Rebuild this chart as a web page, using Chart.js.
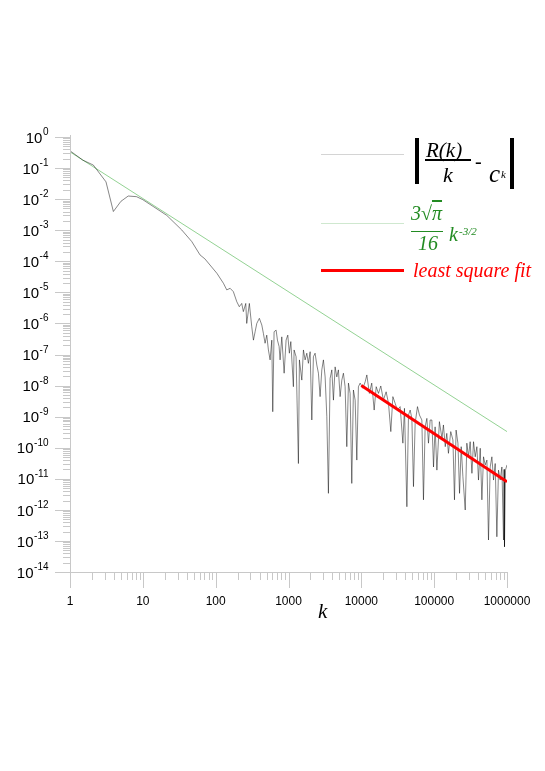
<!DOCTYPE html>
<html lang="en">
<head>
<meta charset="UTF-8" />
<title>|R(k)/k - c_k| against k</title>
<script src="https://cdn.jsdelivr.net/npm/chart.js"></script>
<style>
    body { margin: 0; background: #fff; }
    #wrap { position: relative; width: 545px; height: 771px; }
    canvas { position: absolute; left: 0; top: 0; }
    .t {
        position: absolute;
        white-space: nowrap;
        line-height: 1;
        font-family: "Liberation Serif", "DejaVu Serif", serif;
        font-style: italic;
    }
    .up { font-style: normal; }
    .bar { position: absolute; }
    .g { color: #228b22; }
</style>
</head>
<body>

<div id="wrap">
    <canvas id="chart" width="545" height="771"></canvas>

    <!-- legend: |R(k)/k - c_k| -->
    <div class="bar" style="left:321px;top:154px;width:83px;height:1px;background:#d4d4d4"></div>
    <div class="bar" style="left:415px;top:138px;width:4px;height:46px;background:#000"></div>
    <span class="t" style="left:426px;top:139.5px;font-size:21px">R(k)</span>
    <div class="bar" style="left:425px;top:159px;width:46px;height:1.5px;background:#000"></div>
    <span class="t" style="left:443px;top:163.5px;font-size:22px">k</span>
    <span class="t up" style="left:475px;top:150.5px;font-size:20px">-</span>
    <span class="t" style="left:489px;top:161px;font-size:25px">c</span>
    <span class="t" style="left:501px;top:169px;font-size:11px">k</span>
    <div class="bar" style="left:510px;top:138px;width:4px;height:51px;background:#000"></div>

    <!-- legend: 3 sqrt(pi) / 16 k^-3/2 -->
    <div class="bar" style="left:321px;top:223px;width:83px;height:1px;background:#cfe8cf"></div>
    <span class="t g" style="left:411px;top:203.3px;font-size:20px">3√<span style="text-decoration:overline">π</span></span>
    <div class="bar" style="left:411px;top:230.5px;width:32px;height:1.5px;background:#228b22"></div>
    <span class="t g" style="left:418px;top:233.3px;font-size:20px">16</span>
    <span class="t g" style="left:449px;top:224.3px;font-size:20px">k</span>
    <span class="t g" style="left:459px;top:225.8px;font-size:11px">-3/2</span>

    <!-- legend: least square fit -->
    <div class="bar" style="left:321px;top:269px;width:83px;height:3px;background:#ff0000"></div>
    <span class="t" style="left:413px;top:260.3px;font-size:20px;color:#ff0000">least square fit</span>

    <!-- x axis title -->
    <span class="t" style="left:318px;top:601.4px;font-size:21px">k</span>
</div>

<script>
    // |R(k)/k - c_k|
    const kValues = [
        1, 1.5, 2.09, 3.12, 3.94, 5, 6.3, 8.2, 10, 13.9, 21.3, 34.2, 47, 61, 71, 104, 128, 142, 158, 175,
        195, 211, 228, 240, 259, 267, 290, 313, 330, 348, 367, 398, 430, 452, 477, 503, 530, 559, 590, 608,
        634, 676, 705, 743, 767, 809, 871, 927, 978, 1028, 1076, 1167, 1194, 1271, 1368, 1413, 1524, 1603, 1691, 1784,
        1876, 1982, 2090, 2198, 2318, 2447, 2576, 2716, 2866, 3015, 3184, 3358, 3532, 3725, 3933, 4139, 4365, 4606, 4844, 5114,
        5395, 5675, 5987, 6318, 6652, 7015, 7396, 7787, 8222, 8670, 9120, 9630, 10500, 11300, 11900, 12900, 13900, 15000, 16000, 17200,
        18500, 20100, 21900, 23600, 25400, 27100, 29100, 31300, 34100, 37200, 39100, 42200, 44400, 46800, 49400, 52000, 54800, 59000, 62800, 67800,
        71300, 75200, 79400, 83500, 88100, 93000, 98000, 103000, 109000, 118000, 128000, 134000, 142000, 149000, 157000, 169000, 181000, 190000, 200000, 212000,
        223000, 235000, 248000, 267000, 281000, 296000, 312000, 330000, 347000, 366000, 386000, 406000, 429000, 452000, 476000, 502000, 530000, 557000, 588000, 620000,
        653000, 689000, 726000, 764000, 807000, 851000, 896000, 910000, 924000, 953000, 1000000
    ];
    const rValues = [
        0.36, 0.18, 0.125, 0.036, 0.0040, 0.0085, 0.0126, 0.012, 0.0096, 0.0058, 0.003, 0.00102, 4.3e-4, 1.6e-4, 1.2e-4, 4.1e-5, 1.95e-5, 1.2e-5, 1.35e-5, 1.05e-5,
        5.0e-6, 3.45e-6, 4.4e-6, 2.4e-6, 4.4e-6, 1.0e-6, 4.4e-6, 7.8e-7, 2.9e-7, 5.4e-7, 1.0e-6, 1.46e-6, 8.9e-7, 4.8e-7, 2.3e-7, 4.2e-7, 1.4e-7, 6.7e-8, 2.9e-7, 1.44e-9,
        5.4e-7, 6.1e-7, 2.9e-7, 1.8e-7, 6.7e-8, 3.7e-7, 2.5e-8, 2.9e-7, 4.2e-7, 1.1e-7, 2.6e-7, 9.2e-9, 1.4e-7, 8.5e-8, 3.1e-11, 6.7e-8, 1.5e-8, 1.4e-7, 6.7e-8, 1.1e-7,
        5.2e-8, 1.23e-7, 7.8e-10, 8.5e-8, 1.1e-7, 4.6e-8, 2.5e-8, 4.4e-9, 3.2e-8, 6.7e-8, 1.9e-8, 1.0e-9, 3.4e-12, 1.7e-8, 3.2e-8, 3.4e-9, 4.0e-8, 1.9e-8, 3.2e-8, 4.4e-9,
        1.5e-8, 2.5e-8, 9.2e-9, 1.08e-10, 1.2e-8, 5.6e-9, 7.1e-12, 7.2e-9, 3.4e-9, 4.0e-11, 9.2e-9, 1.2e-8, 8.2e-9, 1.33e-8, 2.2e-8, 5.6e-9, 1.2e-8, 1.63e-9, 9.2e-9, 5.6e-9,
        9.7e-9, 3.4e-9, 6.3e-9, 2.7e-9, 3.3e-10, 4.4e-9, 2.7e-9, 1.63e-9, 2.1e-9, 1.4e-10, 1.85e-9, 1.26e-12, 1.13e-9, 1.63e-9, 8.8e-10, 5.6e-12, 6.1e-10, 2.1e-9, 1.13e-9, 7.8e-10,
        2.1e-12, 4.7e-10, 8.8e-10, 1.4e-10, 7.8e-10, 7.8e-10, 2.4e-11, 4.7e-10, 1.9e-11, 6.9e-10, 2.0e-10, 5.4e-10, 1.08e-10, 2.9e-10, 6.6e-11, 3.3e-10, 1.77e-10, 2.1e-12, 3.7e-10, 1.4e-10,
        3.4e-12, 1.08e-10, 1.17e-11, 9.9e-13, 1.4e-10, 5.1e-11, 1.56e-10, 1.5e-11, 1.56e-10, 5.1e-11, 1.08e-10, 9.1e-12, 9.6e-11, 2.1e-12, 5.1e-11, 2.8e-11, 4.0e-11, 1.07e-13, 2.4e-11, 5.1e-11,
        9.1e-12, 3.1e-11, 1.36e-13, 1.9e-11, 9.1e-12, 2.4e-11, 1.07e-13, 2.0e-11, 6.5e-14, 1.9e-11, 2.8e-11
    ];

    // 3 sqrt(pi)/16 k^-3/2 (end points)
    const boundK = [1, 1000000];
    const boundR = [0.332, 3.3e-10];

    // least square fit (end points)
    const fitK = [10000, 1000000];
    const fitR = [1.0e-8, 8.0e-12];

    const xTickValues = [1, 10, 100, 1000, 10000, 100000, 1000000];
    const xTickLabels = ['1', '10', '100', '1000', '10000', '100000', '1000000'];
    const yTickExps = [0, -1, -2, -3, -4, -5, -6, -7, -8, -9, -10, -11, -12, -13, -14];

    function toPoints(xs, ys) {
        return xs.map((x, i) => ({ x: x, y: ys[i] }));
    }

    // axis lines, log ticks and 10^n labels
    const axisPlugin = {
        id: 'axisPlugin',
        afterDraw(chart) {
            const ctx = chart.ctx;
            const a = chart.chartArea;
            const xs = chart.scales.x, ys = chart.scales.y;
            ctx.save();
            ctx.strokeStyle = '#c8c8c8';
            ctx.lineWidth = 1;
            ctx.beginPath();
            ctx.moveTo(a.left + 0.5, a.top - 2);
            ctx.lineTo(a.left + 0.5, a.bottom);
            ctx.moveTo(a.left - 15, a.bottom + 0.5);
            ctx.lineTo(a.right, a.bottom + 0.5);

            yTickExps.forEach(e => {
                for (let m = 1; m <= 9; m++) {
                    if (e === 0 && m > 1) break;
                    const py = Math.round(ys.getPixelForValue(m * Math.pow(10, e))) + 0.5;
                    ctx.moveTo(a.left - (m === 1 ? 15 : 7), py);
                    ctx.lineTo(a.left, py);
                }
            });
            xTickValues.forEach((v, i) => {
                for (let m = 1; m <= 9; m++) {
                    if (i === xTickValues.length - 1 && m > 1) break;
                    const px = Math.round(xs.getPixelForValue(m * v)) + 0.5;
                    ctx.moveTo(px, a.bottom);
                    ctx.lineTo(px, a.bottom + (m === 1 ? 16 : 8));
                }
            });
            ctx.stroke();

            ctx.fillStyle = '#000';
            ctx.textBaseline = 'alphabetic';
            const right = 48.5;
            yTickExps.forEach(e => {
                const py = ys.getPixelForValue(Math.pow(10, e));
                const sup = String(e);
                ctx.font = '10px "Liberation Sans", Arial, sans-serif';
                const ws = ctx.measureText(sup).width;
                ctx.textAlign = 'left';
                ctx.fillText(sup, right - ws, py - 2);
                ctx.font = '15px "Liberation Sans", Arial, sans-serif';
                ctx.textAlign = 'right';
                ctx.fillText('10', right - ws - 0.5, py + 5.7);
            });

            ctx.font = '12px "Liberation Sans", Arial, sans-serif';
            ctx.textAlign = 'center';
            xTickValues.forEach((v, i) => {
                ctx.fillText(xTickLabels[i], xs.getPixelForValue(v), 605);
            });
            ctx.restore();
        }
    };

    new Chart(document.getElementById('chart'), {
        type: 'line',
        data: {
            datasets: [
                {
                    label: '|R(k)/k - c_k|',
                    data: toPoints(kValues, rValues),
                    borderColor: 'rgba(0,0,0,0.8)',
                    borderWidth: 0.6,
                    order: 1
                },
                {
                    label: '3√π/16 k^-3/2',
                    data: toPoints(boundK, boundR),
                    borderColor: 'rgb(100,190,100)',
                    borderWidth: 0.7,
                    order: 2
                },
                {
                    label: 'least square fit',
                    data: toPoints(fitK, fitR),
                    borderColor: '#ff0000',
                    borderWidth: 3,
                    order: 0
                }
            ]
        },
        options: {
            responsive: false,
            animation: false,
            events: [],
            elements: { point: { radius: 0 }, line: { tension: 0 } },
            layout: { padding: { left: 0, right: 38, top: 137, bottom: 0 } },
            plugins: { legend: { display: false }, tooltip: { enabled: false } },
            scales: {
                x: {
                    type: 'logarithmic',
                    min: 1,
                    max: 1000000,
                    ticks: { display: false },
                    grid: { display: false },
                    border: { display: false },
                    afterFit: s => { s.height = 199; }
                },
                y: {
                    type: 'logarithmic',
                    min: 1e-14,
                    max: 1,
                    ticks: { display: false },
                    grid: { display: false },
                    border: { display: false },
                    afterFit: s => { s.width = 70; }
                }
            }
        },
        plugins: [axisPlugin]
    });
</script>

</body>
</html>
